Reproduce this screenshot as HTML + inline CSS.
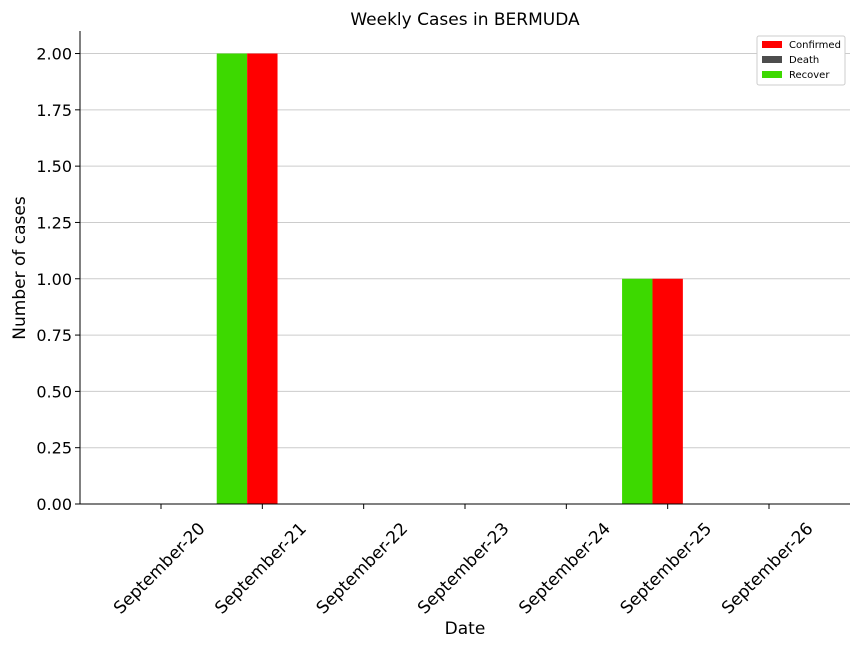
<!DOCTYPE html>
<html><head><meta charset="utf-8"><style>
body{margin:0;background:#fff}
svg{font-family:"DejaVu Sans","Liberation Sans",sans-serif}
</style></head><body>
<svg id="chart" width="864" height="648" xmlns="http://www.w3.org/2000/svg">
<rect width="864" height="648" fill="#fff"/>
<text x="465" y="25" text-anchor="middle" font-size="17" fill="#000">Weekly Cases in BERMUDA</text>
<g id="grid"></g>
<g id="bars"></g>
<g id="axes"></g>
<text x="465" y="634" text-anchor="middle" font-size="17">Date</text>
<text transform="translate(25,268) rotate(-90)" text-anchor="middle" font-size="17">Number of cases</text>
<g>
<rect x="757" y="36" width="88" height="49" rx="2" fill="#fff" stroke="#ccc"/>
<rect x="762" y="41" width="20" height="7" fill="#ff0000"/>
<text x="789" y="48" font-size="10">Confirmed</text>
<rect x="762" y="56" width="20" height="7" fill="#4d4d4d"/>
<text x="789" y="63" font-size="10">Death</text>
<rect x="762" y="71" width="20" height="7" fill="#3dd900"/>
<text x="789" y="78" font-size="10">Recover</text>
</g>
</svg>
<script>
const categories=["September-20","September-21","September-22","September-23","September-24","September-25","September-26"];
const confirmed=[0,2,0,0,0,1,0];
const death=[0,0,0,0,0,0,0];
const recover=[0,2,0,0,0,1,0];
const yTicks=[0,0.25,0.5,0.75,1.0,1.25,1.5,1.75,2.0];
const NS="http://www.w3.org/2000/svg";
const L=80,R=850,T=31,B=504,yMax=2.1;
const pad=81;
const step=(R-L-2*pad)/(categories.length-1);
const xc=i=>L+pad+step*i;
const y=v=>B-(v/yMax)*(B-T);
const bw=30.4;
function mk(t,a,p){const e=document.createElementNS(NS,t);for(const k in a)e.setAttribute(k,a[k]);p.appendChild(e);return e;}
const grid=document.getElementById('grid'),bars=document.getElementById('bars'),axes=document.getElementById('axes');
yTicks.forEach(v=>{
  const g=mk('line',{x1:L,x2:R,y1:y(v),y2:y(v),stroke:'#cccccc','stroke-width':1},grid);
  
  
  mk('line',{x1:L-5,x2:L,y1:y(v),y2:y(v),stroke:'#000'},axes);
  const t=mk('text',{x:L-8,y:y(v)+6,'text-anchor':'end','font-size':'16'},axes);
  t.textContent=v.toFixed(2);
  
  
});
const series=[[recover,'#3dd900',-1.5],[confirmed,'#ff0000',-0.5],[death,'#4d4d4d',0.5]];
categories.forEach((c,i)=>{
  series.forEach(([arr,col,off])=>{
    const v=arr[i];
    const r=mk('rect',{x:xc(i)+off*bw,y:y(v),width:bw,height:B-y(v),fill:col},bars);
    
    
  });
  mk('line',{x1:xc(i),x2:xc(i),y1:B,y2:B+5,stroke:'#000'},axes);
  const t=mk('text',{x:0,y:6,'text-anchor':'middle','font-size':'17',transform:`translate(${xc(i)-2},${B+64}) rotate(-45)`},axes);
  t.textContent=c;
  
  
});
mk('line',{x1:L,x2:L,y1:T,y2:B,stroke:'#000'},axes);
mk('line',{x1:L,x2:R,y1:B,y2:B,stroke:'#000'},axes);
</script>
</body></html>
